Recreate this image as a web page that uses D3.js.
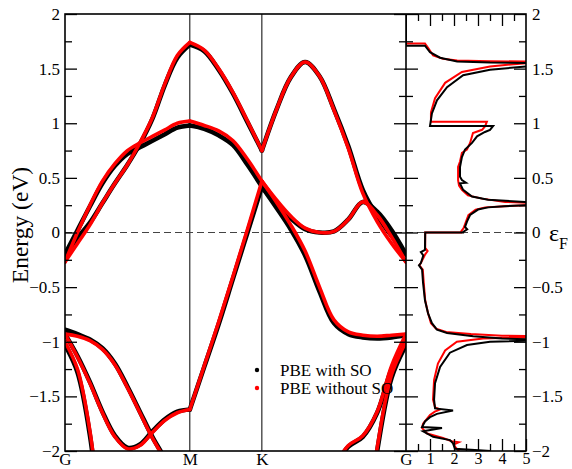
<!DOCTYPE html>
<html>
<head>
<meta charset="utf-8">
<script src="https://cdn.jsdelivr.net/npm/d3@7"></script>
<style>
  body { margin: 0; background: #fff; }
  svg text { font-family: "Liberation Serif", "Times New Roman", serif; fill: #000; }
</style>
</head>
<body>
<svg id="chart" width="572" height="469"></svg>
<script>
// high-symmetry points along the hexagonal path G-M-K-G
const K_LABELS = ["G", "M", "K", "G"];
const K_SYM = [0, 0.5774, 0.9107, 1.5774];

// k grid: 11 pts G-M, 6 pts M-K, 11 pts K-G (shared end points)
const K_PTS = [
  0, 0.0577, 0.1155, 0.1732, 0.2309, 0.2887, 0.3464, 0.4041, 0.4619, 0.5196, 0.5774,
  0.6441, 0.7107, 0.7774, 0.8441, 0.9107,
  0.9774, 1.0441, 1.1107, 1.1774, 1.2441, 1.3107, 1.3774, 1.4441, 1.5107, 1.5774,
];

// band energies (eV) without spin-orbit (red)
const T_NOSO = [-0.27, -0.10, 0.07, 0.27, 0.45, 0.62, 0.82, 1.05, 1.36, 1.62, 1.74,
  1.67, 1.50, 1.28, 1.02, 0.75,
  1.12, 1.42, 1.56, 1.43, 1.12, 0.77, 0.36, 0.10, -0.10, -0.27];
const B2_NOSO = [-0.27, 0.0, 0.25, 0.47, 0.63, 0.75, 0.82, 0.88, 0.94, 1.0, 1.02,
  0.98, 0.93, 0.84, 0.67, 0.47,
  0.30, 0.15, 0.04, 0.0, 0.01, 0.12, 0.28, 0.16, -0.04, -0.27];
const DL_NOSO = [-0.93, -1.14, -1.38, -1.65, -1.87, -1.98, -1.95, -1.83, -1.72, -1.65, -1.62,
  -1.22, -0.82, -0.40, 0.03, 0.47,
  0.28, 0.07, -0.17, -0.50, -0.80, -0.91, -0.94, -0.95, -0.94, -0.93];
const D1_NOSO = [-0.93, -0.95, -0.99, -1.07, -1.21, -1.42, -1.65, -1.88, -2.08, -2.3, null,
  null, null, null, null, null,
  null, null, null, null, -2.15, -1.95, -1.86, -1.64, -1.22, -0.93];
const S1_NOSO = [-1.0, -1.25, -1.82, -2.8, null, null, null, null, null, null, null,
  null, null, null, null, null,
  null, null, null, null, null, null, -2.9, -1.97, -1.3, -1.0];

// band energies (eV) with spin-orbit (black)
const T_SO = [-0.20, -0.05, 0.09, 0.27, 0.45, 0.62, 0.81, 1.04, 1.35, 1.60, 1.72,
  1.66, 1.49, 1.27, 1.01, 0.75,
  1.12, 1.42, 1.56, 1.43, 1.13, 0.79, 0.39, 0.15, -0.03, -0.20];
const B2_SO = [-0.20, 0.02, 0.24, 0.45, 0.61, 0.72, 0.78, 0.84, 0.90, 0.96, 0.98,
  0.95, 0.89, 0.80, 0.62, 0.42,
  0.26, 0.13, 0.03, 0.0, 0.01, 0.12, 0.28, 0.19, 0.02, -0.20];
const DL_SO = [-0.93, -1.13, -1.37, -1.64, -1.86, -1.97, -1.94, -1.82, -1.71, -1.64, -1.62,
  -1.23, -0.84, -0.42, 0.0, 0.42,
  0.23, 0.03, -0.21, -0.54, -0.83, -0.93, -0.96, -0.97, -0.96, -0.94];
const D1_SO = [-0.89, -0.93, -0.98, -1.06, -1.20, -1.41, -1.64, -1.87, -2.07, -2.3, null,
  null, null, null, null, null,
  null, null, null, null, -2.16, -1.96, -1.87, -1.65, -1.25, -1.0];
const S1_SO = [-1.03, -1.28, -1.86, -2.85, null, null, null, null, null, null, null,
  null, null, null, null, null,
  null, null, null, null, null, null, -2.95, -2.0, -1.33, -1.03];

// density of states (states/eV) vs energy
const DOS_SO_E = [2.05, 1.71, 1.71, 1.65, 1.60, 1.565, 1.555, 1.551, 1.545, 1.52, 1.49, 1.44, 1.33, 1.21, 1.09,
  0.975, 0.975, 0.94, 0.92, 0.88, 0.82, 0.76, 0.69, 0.60, 0.51, 0.48, 0.455, 0.45, 0.39, 0.33, 0.30, 0.28,
  0.265, 0.25, 0.24, 0.23, 0.21, 0.16, 0.10, 0.05, 0.03, 0.005, 0, 0, -0.16, -0.18, -0.21, -0.28, -0.30,
  -0.34, -0.46, -0.62, -0.74, -0.83, -0.89, -0.92, -0.95, -0.97, -0.985, -0.99, -1.0, -1.03, -1.10, -1.23,
  -1.38, -1.53, -1.61, -1.63, -1.66, -1.69, -1.73, -1.78, -1.79, -1.82, -1.87, -1.90, -1.93, -1.98, -2.0, -2.05];
const DOS_SO = [0, 0, 0.79, 1.0, 1.42, 2.13, 3.5, 5.2, 6.5, 5.0, 3.5, 2.38, 1.71, 1.29, 1.08,
  1.0, 3.63, 3.5, 3.29, 2.96, 2.75, 2.46, 2.33, 2.25, 2.25, 2.33, 2.5, 2.25, 2.38, 2.75, 3.42, 4.96,
  6.5, 5.0, 4.1, 3.42, 3.0, 2.67, 2.54, 2.46, 2.55, 2.38, 2.38, 0.8, 0.79, 0.62, 0.72, 0.62, 0.54,
  0.67, 0.71, 0.79, 0.92, 1.08, 1.29, 1.71, 2.8, 4.0, 6.5, 5.0, 3.5, 2.54, 1.83, 1.42,
  1.21, 1.17, 1.21, 1.96, 1.29, 1.0, 0.79, 0.67, 1.5, 0.71, 1.13, 1.83, 1.96, 2.04, 3.5, 3.6];

const DOS_NOSO_E = [2.05, 1.73, 1.73, 1.69, 1.62, 1.59, 1.575, 1.568, 1.565, 1.56, 1.55, 1.52, 1.47, 1.37, 1.23,
  1.10, 1.014, 1.014, 0.97, 0.94, 0.91, 0.82, 0.76, 0.73, 0.65, 0.60, 0.48, 0.43, 0.39, 0.34, 0.31, 0.28,
  0.272, 0.265, 0.25, 0.24, 0.23, 0.21, 0.16, 0.10, 0.04, 0.01, 0, 0, -0.14, -0.17, -0.20, -0.28, -0.30,
  -0.34, -0.46, -0.62, -0.74, -0.83, -0.88, -0.91, -0.93, -0.945, -0.952, -0.96, -0.97, -1.0, -1.08, -1.20,
  -1.35, -1.53, -1.60, -1.62, -1.64, -1.67, -1.75, -1.79, -1.84, -1.88, -1.91, -1.92, -1.94, -1.96, -2.0, -2.05];
const DOS_NOSO = [0, 0, 0.79, 0.92, 1.13, 1.54, 2.13, 3.5, 5.0, 6.5, 5.0, 3.5, 2.33, 1.63, 1.21,
  1.04, 1.04, 3.37, 3.29, 3.17, 2.79, 2.67, 2.54, 2.33, 2.25, 2.17, 2.17, 2.21, 2.33, 2.58, 3.17, 4.13,
  5.1, 6.5, 5.0, 4.1, 3.3, 2.9, 2.6, 2.5, 2.4, 2.3, 2.3, 0.8, 0.8, 0.9, 0.8, 0.62, 0.56,
  0.7, 0.74, 0.8, 0.92, 1.04, 1.25, 1.67, 2.7, 4.0, 6.5, 5.0, 3.21, 2.12, 1.63, 1.33,
  1.17, 1.125, 1.21, 1.42, 1.2, 1.0, 0.71, 0.67, 0.88, 1.54, 1.9, 2.2, 2.0, 2.04, 2.2, 2.3];

const E_MAJOR = [-2, -1.5, -1, -0.5, 0, 0.5, 1, 1.5, 2];
const E_MINOR = [-1.75, -1.25, -0.75, -0.25, 0.25, 0.75, 1.25, 1.75];
const DOS_MAJOR = [1, 2, 3, 4, 5];
const DOS_MINOR = [0.5, 1.5, 2.5, 3.5, 4.5];

const LEGEND = [
  { label: "PBE with SO", color: "#000" },
  { label: "PBE without SO", color: "#f00" },
];

// ---- layout ----
const FONT = "Liberation Serif, Times New Roman, serif";
const svg = d3.select("#chart").attr("font-family", FONT);
const band = { left: 65, right: 406, top: 14, bottom: 451 };
const dos = { left: 406, right: 526 };

const x = d3.scaleLinear().domain([0, K_SYM[3]]).range([band.left, band.right]);
const y = d3.scaleLinear().domain([-2, 2]).range([band.bottom, band.top]);
const xd = d3.scaleLinear().domain([0, 5]).range([dos.left, dos.right]);

const defs = svg.append("defs");
defs.append("clipPath").attr("id", "clip-band")
  .append("rect").attr("x", band.left).attr("y", band.top)
  .attr("width", band.right - band.left).attr("height", band.bottom - band.top);
defs.append("clipPath").attr("id", "clip-dos")
  .append("rect").attr("x", dos.left).attr("y", band.top)
  .attr("width", dos.right - dos.left).attr("height", band.bottom - band.top);

// high-symmetry verticals and Fermi level
svg.append("g").selectAll("line")
  .data(K_SYM.slice(1, 3))
  .join("line")
  .attr("x1", (d) => x(d)).attr("x2", (d) => x(d))
  .attr("y1", band.top).attr("y2", band.bottom)
  .attr("stroke", "#000").attr("stroke-width", 1);

svg.append("line")
  .attr("x1", band.left).attr("x2", dos.right)
  .attr("y1", y(0)).attr("y2", y(0))
  .attr("stroke", "#444").attr("stroke-width", 1.2)
  .attr("stroke-dasharray", "7,4");

// bands, drawn segment by segment so kinks at M and K stay sharp
const SEGMENTS = [[0, 10], [10, 15], [15, 25]];
const bandLine = d3.line()
  .defined((d) => d[1] != null)
  .x((d) => x(d[0]))
  .y((d) => y(d[1]))
  .curve(d3.curveCatmullRom.alpha(0.5));

const gBands = svg.append("g").attr("clip-path", "url(#clip-band)");

function drawBand(vals, color, width) {
  SEGMENTS.forEach(([a, b]) => {
    const pts = d3.range(a, b + 1).map((i) => [K_PTS[i], vals[i]]);
    gBands.append("path")
      .datum(pts)
      .attr("d", bandLine)
      .attr("fill", "none")
      .attr("stroke", color)
      .attr("stroke-width", width)
      .attr("stroke-linecap", "round")
      .attr("stroke-linejoin", "round");
  });
}

[T_SO, B2_SO, DL_SO, D1_SO, S1_SO].forEach((v) => drawBand(v, "#000", 4.6));
[T_NOSO, B2_NOSO, DL_NOSO, D1_NOSO, S1_NOSO].forEach((v) => drawBand(v, "#f00", 3.6));

// DOS
const gDos = svg.append("g").attr("clip-path", "url(#clip-dos)");
const dosLine = d3.line().x((d) => xd(d[1])).y((d) => y(d[0]));

gDos.append("path")
  .datum(DOS_NOSO_E.map((e, i) => [e, DOS_NOSO[i]]))
  .attr("d", dosLine)
  .attr("fill", "none").attr("stroke", "#f00").attr("stroke-width", 2);
gDos.append("path")
  .datum(DOS_SO_E.map((e, i) => [e, DOS_SO[i]]))
  .attr("d", dosLine)
  .attr("fill", "none").attr("stroke", "#000").attr("stroke-width", 2);

// axes
function tidy(g) {
  g.attr("font-family", FONT);
  g.select(".domain").remove();
  g.selectAll(".tick line").attr("stroke", "#000").attr("stroke-width", 1.3);
  g.selectAll(".tick text").attr("font-size", 17);
}

svg.append("g").attr("transform", `translate(${band.left},0)`)
  .call(d3.axisLeft(y).tickValues(E_MAJOR).tickSize(-12).tickPadding(5).tickFormat(d3.format("")))
  .call(tidy);
svg.append("g").attr("transform", `translate(${band.left},0)`)
  .call(d3.axisLeft(y).tickValues(E_MINOR).tickSize(-7).tickFormat(""))
  .call(tidy);

svg.append("g").attr("transform", `translate(${band.right},0)`)
  .call(d3.axisLeft(y).tickValues(E_MAJOR).tickSize(12).tickFormat(""))
  .call(tidy);
svg.append("g").attr("transform", `translate(${band.right},0)`)
  .call(d3.axisLeft(y).tickValues(E_MINOR).tickSize(7).tickFormat(""))
  .call(tidy);
svg.append("g").attr("transform", `translate(${dos.left},0)`)
  .call(d3.axisRight(y).tickValues(E_MAJOR).tickSize(12).tickFormat(""))
  .call(tidy);
svg.append("g").attr("transform", `translate(${dos.left},0)`)
  .call(d3.axisRight(y).tickValues(E_MINOR).tickSize(7).tickFormat(""))
  .call(tidy);

svg.append("g").attr("transform", `translate(${dos.right},0)`)
  .call(d3.axisRight(y).tickValues(E_MAJOR).tickSize(-12).tickPadding(6).tickFormat(d3.format("")))
  .call(tidy);
svg.append("g").attr("transform", `translate(${dos.right},0)`)
  .call(d3.axisRight(y).tickValues(E_MINOR).tickSize(-7).tickFormat(""))
  .call(tidy);

svg.append("g").attr("transform", `translate(0,${band.top})`)
  .call(d3.axisTop(xd).tickValues(DOS_MAJOR.slice(0, 4)).tickSize(-12).tickFormat(""))
  .call(tidy);
svg.append("g").attr("transform", `translate(0,${band.top})`)
  .call(d3.axisTop(xd).tickValues(DOS_MINOR).tickSize(-7).tickFormat(""))
  .call(tidy);
svg.append("g").attr("transform", `translate(0,${band.bottom})`)
  .call(d3.axisBottom(xd).tickValues(DOS_MAJOR).tickSize(-12).tickFormat(d3.format("")))
  .call(tidy)
  .call((g) => g.selectAll(".tick text").attr("y", 2).attr("font-size", 16));
svg.append("g").attr("transform", `translate(0,${band.bottom})`)
  .call(d3.axisBottom(xd).tickValues(DOS_MINOR).tickSize(-7).tickFormat(""))
  .call(tidy);

// high-symmetry labels
svg.append("g").attr("transform", `translate(0,${band.bottom})`)
  .call(d3.axisBottom(x).tickValues(K_SYM).tickSize(0).tickFormat((d, i) => K_LABELS[i]))
  .call(tidy)
  .call((g) => g.selectAll(".tick text").attr("y", 2));

// frames
svg.append("rect")
  .attr("x", band.left).attr("y", band.top)
  .attr("width", dos.right - band.left).attr("height", band.bottom - band.top)
  .attr("fill", "none").attr("stroke", "#000").attr("stroke-width", 1.6);
svg.append("line")
  .attr("x1", band.right).attr("x2", band.right)
  .attr("y1", band.top).attr("y2", band.bottom)
  .attr("stroke", "#000").attr("stroke-width", 1.6);

// axis title and Fermi label
svg.append("text")
  .attr("transform", "translate(28,225) rotate(-90)")
  .attr("text-anchor", "middle")
  .attr("font-size", 23.5)
  .text("Energy (eV)");

const ef = svg.append("text")
  .attr("x", 549).attr("y", y(0) + 8)
  .attr("font-size", 24);
ef.append("tspan").text("ε");
ef.append("tspan").attr("font-size", 16).attr("dy", 8).text("F");

// legend
const gLeg = svg.append("g");
gLeg.selectAll("circle")
  .data(LEGEND)
  .join("circle")
  .attr("cx", 257).attr("cy", (d, i) => 370 + i * 18)
  .attr("r", 2.2)
  .attr("fill", (d) => d.color);
gLeg.selectAll("text")
  .data(LEGEND)
  .join("text")
  .attr("x", 280).attr("y", (d, i) => 370 + i * 18)
  .attr("dy", "0.33em")
  .attr("font-size", 17)
  .text((d) => d.label);
</script>
</body>
</html>
